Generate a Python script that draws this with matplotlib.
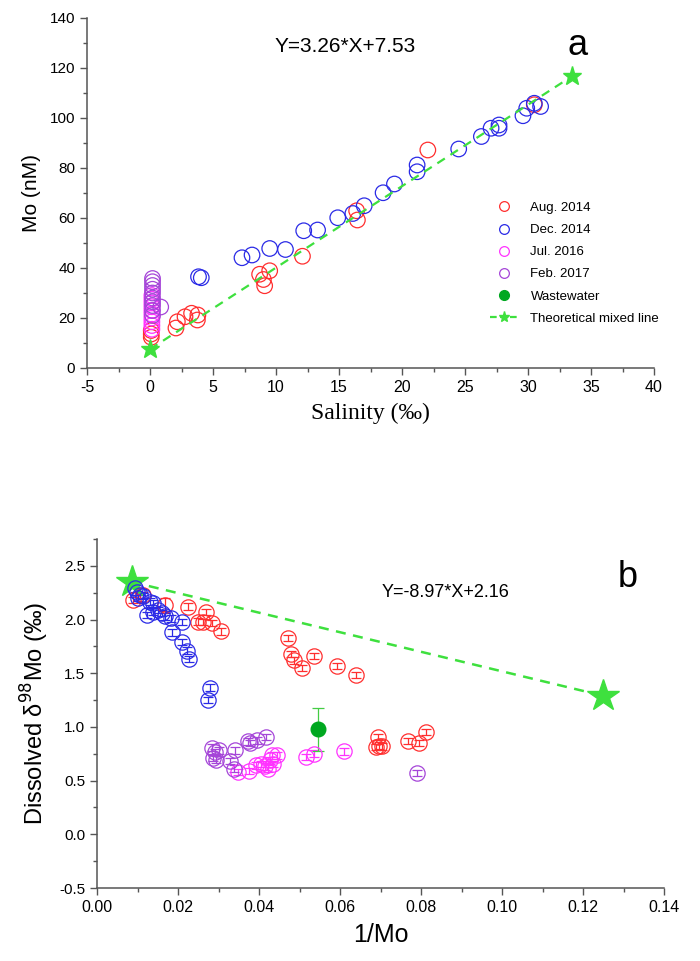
import numpy as np
import matplotlib; matplotlib.use("Agg")
import matplotlib.pyplot as plt
from matplotlib.lines import Line2D
from matplotlib.ticker import MultipleLocator

plt.rcParams["font.family"] = ["Liberation Sans", "DejaVu Sans"]
plt.rcParams["axes.unicode_minus"] = False

# ---- panel a: Mo vs salinity ----
aug_sal = [22.05, 30.5, 16.4, 16.46, 12.1, 8.7, 9.5, 9.0, 9.1, 2.06, 2.17, 2.78, 3.3, 3.76, 3.8, 0.1, 0.1, 0.1]
aug_mo = [87.2, 105.3, 62.9, 59.2, 44.7, 37.5, 38.9, 35.4, 32.9, 16.0, 18.5, 20.5, 21.9, 19.2, 21.2, 12.3, 13.6, 15.0]
dec_sal = [30.5, 31.0, 29.9, 29.6, 27.7, 27.7, 27.07, 26.3, 24.5, 21.2, 21.2, 19.4, 18.5, 17.0, 16.1,
           14.9, 13.3, 12.2, 10.75, 9.5, 8.1, 7.3, 3.85, 4.07]
dec_mo = [105.9, 104.6, 103.9, 100.9, 97.2, 95.9, 95.9, 92.6, 87.6, 81.2, 78.5, 73.6, 70.1, 64.9, 61.8,
          60.1, 55.2, 54.9, 47.4, 47.8, 45.2, 44.1, 36.5, 36.1]
jul_sal = [0.15, 0.15, 0.15, 0.15, 0.15, 0.15, 0.15, 0.15, 0.15, 0.15]
jul_mo = [15.5, 17.0, 18.5, 20.0, 21.5, 23.0, 24.5, 26.0, 27.5, 29.0]
feb_sal = [0.2, 0.2, 0.2, 0.2, 0.2, 0.2, 0.2, 0.2, 0.2, 0.2, 0.85]
feb_mo = [21.0, 23.0, 25.0, 26.5, 28.0, 30.0, 31.5, 33.0, 34.5, 35.8, 24.4]
mix_sal = [0.0, 33.5]
mix_mo = [7.53, 116.74]

# ---- panel b: d98Mo vs 1/Mo ----
aug_inv = [0.0090, 0.0114, 0.0168, 0.0224, 0.0268, 0.0250, 0.0262, 0.0285, 0.0305,
           0.0472, 0.0479, 0.0486, 0.0506, 0.0536, 0.0592, 0.0640,
           0.0694, 0.0689, 0.0697, 0.0704, 0.0767, 0.0795, 0.0813]
aug_d = [2.18, 2.23, 2.14, 2.12, 2.07, 1.98, 1.975, 1.966, 1.89,
         1.83, 1.68, 1.62, 1.55, 1.66, 1.565, 1.485,
         0.906, 0.813, 0.825, 0.819, 0.868, 0.85, 0.952]
aug_err = [0.03, 0.03, 0.06, 0.03, 0.03, 0.03, 0.03, 0.03, 0.03,
           0.03, 0.03, 0.03, 0.03, 0.03, 0.03, 0.03,
           0.03, 0.03, 0.03, 0.03, 0.03, 0.03, 0.03]
dec_inv = [0.0094, 0.0098, 0.0106, 0.0102, 0.0114, 0.0131, 0.0138, 0.0123, 0.0139, 0.0151,
           0.0160, 0.0168, 0.0182, 0.0211, 0.0184, 0.0209, 0.0221, 0.0226, 0.0279, 0.0275]
dec_d = [2.29, 2.26, 2.23, 2.20, 2.22, 2.167, 2.15, 2.043, 2.074, 2.09,
         2.06, 2.03, 2.01, 1.975, 1.88, 1.79, 1.71, 1.63, 1.366, 1.25]
jul_inv = [0.0348, 0.0375, 0.0392, 0.0404, 0.0414, 0.0421, 0.0428, 0.0435, 0.0445, 0.0431,
           0.0516, 0.0535, 0.0611]
jul_d = [0.58, 0.59, 0.642, 0.657, 0.633, 0.611, 0.689, 0.657, 0.735, 0.735, 0.72, 0.751, 0.772]
feb_inv = [0.0284, 0.0292, 0.0301, 0.0287, 0.0294, 0.0340, 0.0328, 0.0374, 0.0377, 0.0396,
           0.0418, 0.0338, 0.0789]
feb_d = [0.807, 0.766, 0.782, 0.714, 0.695, 0.782, 0.683, 0.865, 0.85, 0.875, 0.905, 0.611, 0.571]
waste_inv = [0.0546]
waste_d = [0.98]
waste_err = [0.2]
mix_inv = [0.0086, 0.125]
mix_d = [2.35, 1.29]

RED, BLUE, MAG, PUR = "#ff2e2e", "#2a2ae6", "#ff33ff", "#a545d8"
GREEN, LIME = "#00a820", "#3ee03e"
SPINE = "#555555"


def style(ax):
    for s in ("top", "right"):
        ax.spines[s].set_visible(False)
    for s in ("left", "bottom"):
        ax.spines[s].set_color(SPINE); ax.spines[s].set_linewidth(1.1)
    ax.tick_params(which="both", color=SPINE, width=1.0, direction="out")
    ax.tick_params(which="major", length=5)
    ax.tick_params(which="minor", length=3)
    ax.tick_params(axis="x", labelsize=11.5)
    ax.tick_params(axis="y", labelsize=11)


fig = plt.figure(figsize=(7, 9.61), dpi=100)
W, H = 700, 961

# panel a
ax = fig.add_axes([87 / W, 1 - 368 / H, 567 / W, 350 / H])
style(ax)
mk = dict(marker="o", s=125, facecolors="none", linewidths=0.9)
ax.scatter(aug_sal, aug_mo, edgecolors=RED, label="Aug. 2014", **mk)
ax.scatter(dec_sal, dec_mo, edgecolors=BLUE, label="Dec. 2014", **mk)
ax.scatter(jul_sal, jul_mo, edgecolors=MAG, label="Jul. 2016", **mk)
ax.scatter(feb_sal, feb_mo, edgecolors=PUR, label="Feb. 2017", **mk)
ax.plot(mix_sal, mix_mo, color=LIME, ls=(0, (4, 3)), lw=1.6, marker="*", ms=14, mec=LIME, mfc=LIME)
ax.set_xlim(-5, 40); ax.set_ylim(0, 140)
ax.xaxis.set_major_locator(MultipleLocator(5)); ax.xaxis.set_minor_locator(MultipleLocator(2.5))
ax.yaxis.set_major_locator(MultipleLocator(20)); ax.yaxis.set_minor_locator(MultipleLocator(10))
ax.set_xlabel("Salinity (‰)", family=["Liberation Serif", "DejaVu Serif"], fontsize=17, labelpad=6)
ax.set_ylabel("Mo (nM)", fontsize=15, labelpad=6)
ax.text(15.5, 128.5, "Y=3.26*X+7.53", fontsize=15, ha="center", va="center")
ax.text(33.9, 129, "a", fontsize=26, ha="center", va="center")

handles = [
    Line2D([], [], ls="none", marker="o", ms=7, mfc="none", mec=RED, mew=0.9),
    Line2D([], [], ls="none", marker="o", ms=7, mfc="none", mec=BLUE, mew=0.9),
    Line2D([], [], ls="none", marker="o", ms=7, mfc="none", mec=MAG, mew=0.9),
    Line2D([], [], ls="none", marker="o", ms=7, mfc="none", mec=PUR, mew=0.9),
    Line2D([], [], ls="none", marker="o", ms=7, mfc=GREEN, mec=GREEN),
    Line2D([], [], color=LIME, ls=(0, (3, 1.5)), lw=1.6, marker="*", ms=8, mfc=LIME, mec=LIME),
]
labels = ["Aug. 2014", "Dec. 2014", "Jul. 2016", "Feb. 2017", "Wastewater", "Theoretical mixed line"]
ax.legend(handles, labels, loc="upper left", bbox_to_anchor=(0.71, 0.475), frameon=False,
          fontsize=9.5, handlelength=2.2, handletextpad=0.9, labelspacing=0.75,
          borderpad=0, borderaxespad=0, numpoints=1)

# panel b
bx = fig.add_axes([97 / W, 1 - 888 / H, 567 / W, 349 / H])
style(bx)
eb = dict(fmt="o", ms=11, mfc="none", mew=0.9, elinewidth=0.9, capsize=3.5, capthick=0.9)
bx.errorbar(aug_inv, aug_d, yerr=aug_err, mec=RED, ecolor=RED, **eb)
bx.errorbar(dec_inv, dec_d, yerr=0.03, mec=BLUE, ecolor=BLUE, **eb)
bx.errorbar(jul_inv, jul_d, yerr=0.03, mec=MAG, ecolor=MAG, **eb)
bx.errorbar(feb_inv, feb_d, yerr=0.03, mec=PUR, ecolor=PUR, **eb)
bx.errorbar(waste_inv, waste_d, yerr=waste_err, fmt="o", ms=10.5, mfc=GREEN, mec=GREEN,
            ecolor="#44cc44", elinewidth=0.9, capsize=4, capthick=0.9)
bx.plot(mix_inv, mix_d, color=LIME, ls=(0, (4, 3)), lw=1.8, marker="*", ms=24, mec=LIME, mfc=LIME)
bx.set_xlim(0, 0.14); bx.set_ylim(-0.5, 2.75)
bx.xaxis.set_major_locator(MultipleLocator(0.02)); bx.xaxis.set_minor_locator(MultipleLocator(0.01))
bx.yaxis.set_major_locator(MultipleLocator(0.5)); bx.yaxis.set_minor_locator(MultipleLocator(0.25))
bx.xaxis.set_major_formatter(plt.FormatStrFormatter("%.2f"))
bx.yaxis.set_major_formatter(plt.FormatStrFormatter("%.1f"))
bx.set_xlabel("1/Mo", fontsize=18, labelpad=6)
bx.set_ylabel("Dissolved δ$^{98}$Mo (‰)", fontsize=17, labelpad=6)
bx.text(0.086, 2.25, "Y=-8.97*X+2.16", fontsize=13, ha="center", va="center")
bx.text(0.131, 2.39, "b", fontsize=26, ha="center", va="center")

fig.savefig("out.png", dpi=100)
